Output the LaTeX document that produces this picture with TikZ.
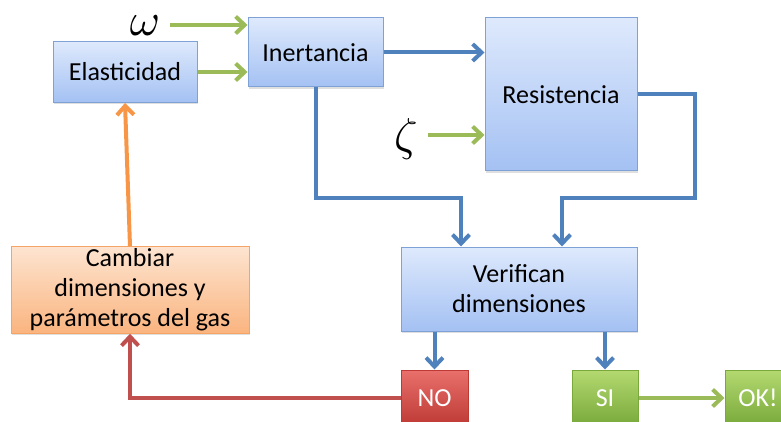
\documentclass[tikz,border=0pt]{standalone}
\usepackage{fontspec}
\setmainfont{Carlito}
\usetikzlibrary{arrows.meta,shadows}

\definecolor{azulborde}{HTML}{7FA2D6}
\definecolor{azularriba}{HTML}{DEE9FC}
\definecolor{azulabajo}{HTML}{A4C1F3}
\definecolor{naranjaborde}{HTML}{F5A466}
\definecolor{naranjaarriba}{HTML}{FDE4D0}
\definecolor{naranjaabajo}{HTML}{FAB47F}
\definecolor{rojoarriba}{HTML}{E9706C}
\definecolor{rojoabajo}{HTML}{BD3934}
\definecolor{verdearriba}{HTML}{B3D970}
\definecolor{verdeabajo}{HTML}{79A93A}
\definecolor{flechaazul}{HTML}{4F81BD}
\definecolor{flechaverde}{HTML}{9BBB59}
\definecolor{flechanaranja}{HTML}{F79646}
\definecolor{flecharoja}{HTML}{C0504D}

\tikzset{
  caja/.style={draw, line width=1pt, inner sep=2pt, align=center,
    font=\fontsize{26}{30}\selectfont,
    drop shadow={opacity=0.25, shadow xshift=1pt, shadow yshift=-2pt}},
  azulcaja/.style={caja, draw=azulborde, top color=azularriba, bottom color=azulabajo},
  naranjacaja/.style={caja, draw=naranjaborde, top color=naranjaarriba, bottom color=naranjaabajo},
  rojacaja/.style={caja, draw=rojoabajo, top color=rojoarriba, bottom color=rojoabajo, text=white},
  verdecaja/.style={caja, draw=verdeabajo, top color=verdearriba, bottom color=verdeabajo, text=white},
  flecha/.style={line width=4pt, -{Straight Barb[length=9pt,width=17pt]}},
  azul/.style={flecha, draw=flechaazul},
  verde/.style={flecha, draw=flechaverde},
  naranja/.style={flecha, draw=flechanaranja},
  roja/.style={flecha, draw=flecharoja},
  simbolo/.style={inner sep=0pt}
}

\begin{document}
\begin{tikzpicture}[x=1pt, y=-1pt]
  \useasboundingbox (0,0) rectangle (781,422);

  \node[azulcaja, minimum width=144pt, minimum height=61pt] (elas) at (125,72) {Elasticidad};
  \node[azulcaja, minimum width=135pt, minimum height=69pt] (inert) at (315.5,52.5) {Inertancia};
  \node[azulcaja, minimum width=152pt, minimum height=153pt] (resis) at (561,94.5) {Resistencia};
  \node[azulcaja, minimum width=236pt, minimum height=84pt] (verif) at (519,289) {Verifican\\dimensiones};
  \node[naranjacaja, minimum width=238pt, minimum height=86pt] (cambiar) at (130,290) {Cambiar\\dimensiones y\\parámetros del gas};
  \node[rojacaja, minimum width=67pt, minimum height=56pt] (no) at (434.5,398) {NO};
  \node[verdecaja, minimum width=66pt, minimum height=56pt] (si) at (605,398) {SI};
  \node[verdecaja, minimum width=66pt, minimum height=56pt] (ok) at (758,398) {OK!};

  \node[simbolo] (omega) at (145,26) {\scalebox{4.6}{$\omega$}};
  \node[simbolo] (zeta) at (406,139) {\scalebox{4.6}{$\zeta$}};

  \coordinate (c1) at (461,198);
  \coordinate (c2) at (562,198);
  \coordinate (c3) at (695,198);

  % entradas
  \draw[verde] (omega.east |- 0,25) ++(10,0) -- (inert.west |- 0,25);
  \draw[verde] (elas.east) -- (inert.west |- elas.east);
  \draw[verde] (zeta.east |- 0,135) ++(10,0) -- (resis.west |- 0,135);
  \draw[azul] (inert.east) -- (resis.west |- inert.east);

  % hacia verificar
  \draw[azul] (inert.south) |- (c1) -- (c1 |- verif.north);
  \draw[azul] (resis.east) -| (c3) -- (c2) -- (c2 |- verif.north);
  \draw[azul] (verif.south -| no) -- (no.north);
  \draw[azul] (verif.south -| si) -- (si.north);

  % resultado
  \draw[verde] (si) -- (ok);
  \draw[roja] (no.west) -| (cambiar.south);
  \draw[naranja] (cambiar.north) -- (elas.south);
\end{tikzpicture}
\end{document}
